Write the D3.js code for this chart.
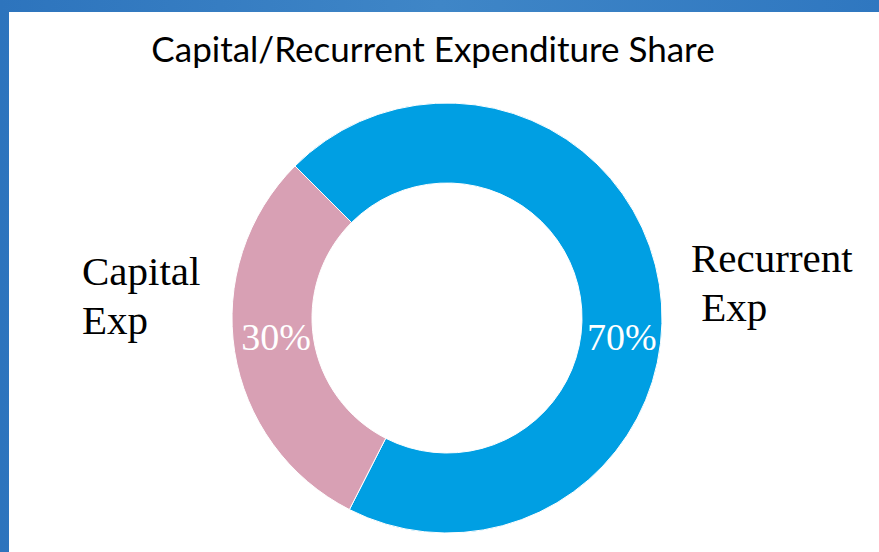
<!DOCTYPE html>
<html>
<head>
<meta charset="utf-8">
<script src="https://cdn.jsdelivr.net/npm/d3@7"></script>
<style>
  body { margin: 0; overflow: hidden; }
</style>
</head>
<body>
<script>
// data
var categories = ["Recurrent Exp", "Capital Exp"];
var shares = [70, 30];
var labelLines = [["Recurrent", " Exp"], ["Capital", "Exp"]];
var colors = ["#009fe3", "#d8a0b4"];

var width = 879, height = 552;
var cx = 447, cy = 318, outerR = 215, innerR = 135;

var svg = d3.select("body").append("svg")
            .attr("width", width)
            .attr("height", height);

// blue slide frame
var grad = svg.append("defs").append("linearGradient")
              .attr("id", "frame").attr("x1", 0).attr("x2", 1).attr("y1", 0).attr("y2", 0);
grad.append("stop").attr("offset", "0%").attr("stop-color", "#2d74bd");
grad.append("stop").attr("offset", "50%").attr("stop-color", "#3f86c7");
grad.append("stop").attr("offset", "100%").attr("stop-color", "#2f77c0");

svg.append("rect").attr("width", width).attr("height", height).attr("fill", "url(#frame)");
svg.append("rect")
   .attr("x", 9).attr("y", 12)
   .attr("width", width - 9).attr("height", height - 12)
   .attr("fill", "#ffffff");

svg.append("text")
   .attr("x", 433).attr("y", 62)
   .attr("text-anchor", "middle")
   .style("font-family", "Lato, 'Open Sans', sans-serif")
   .style("font-size", "35px")
   .style("fill", "#000")
   .text("Capital/Recurrent Expenditure Share");

var pie = d3.pie()
            .sort(null)
            .startAngle(-Math.PI / 4)
            .endAngle(2 * Math.PI - Math.PI / 4)
            .value(function (d) { return d; });

var arc = d3.arc().innerRadius(innerR).outerRadius(outerR);

var g = svg.append("g").attr("transform", "translate(" + cx + "," + cy + ")");

var slices = g.selectAll("path")
              .data(pie(shares))
              .enter()
              .append("path")
              .attr("d", arc)
              .attr("fill", function (d, i) { return colors[i]; })
              .attr("stroke", "#ffffff")
              .attr("stroke-width", 1);

// percent labels sit on the ring, just below the horizontal
g.selectAll("text.pct")
 .data(pie(shares))
 .enter()
 .append("text")
 .attr("class", "pct")
 .attr("x", function (d) { return arc.centroid(d)[0] + 2; })
 .attr("y", 32)
 .attr("text-anchor", "middle")
 .style("font-family", "'Liberation Serif', 'DejaVu Serif', serif")
 .style("font-size", "38px")
 .style("fill", "#ffffff")
 .text(function (d) { return d.data + "%"; });

// category labels outside the ring
var labelPos = [{x: 691, y: 272}, {x: 82, y: 285}];
categories.forEach(function (c, i) {
  var t = svg.append("text")
             .attr("x", labelPos[i].x)
             .attr("y", labelPos[i].y)
             .style("font-family", "'Liberation Serif', 'DejaVu Serif', serif")
             .style("font-size", "41px")
             .style("fill", "#000")
             .attr("xml:space", "preserve");
  labelLines[i].forEach(function (line, j) {
    t.append("tspan")
     .attr("x", labelPos[i].x)
     .attr("dy", j === 0 ? 0 : 49)
     .text(line);
  });
});
</script>
</body>
</html>
